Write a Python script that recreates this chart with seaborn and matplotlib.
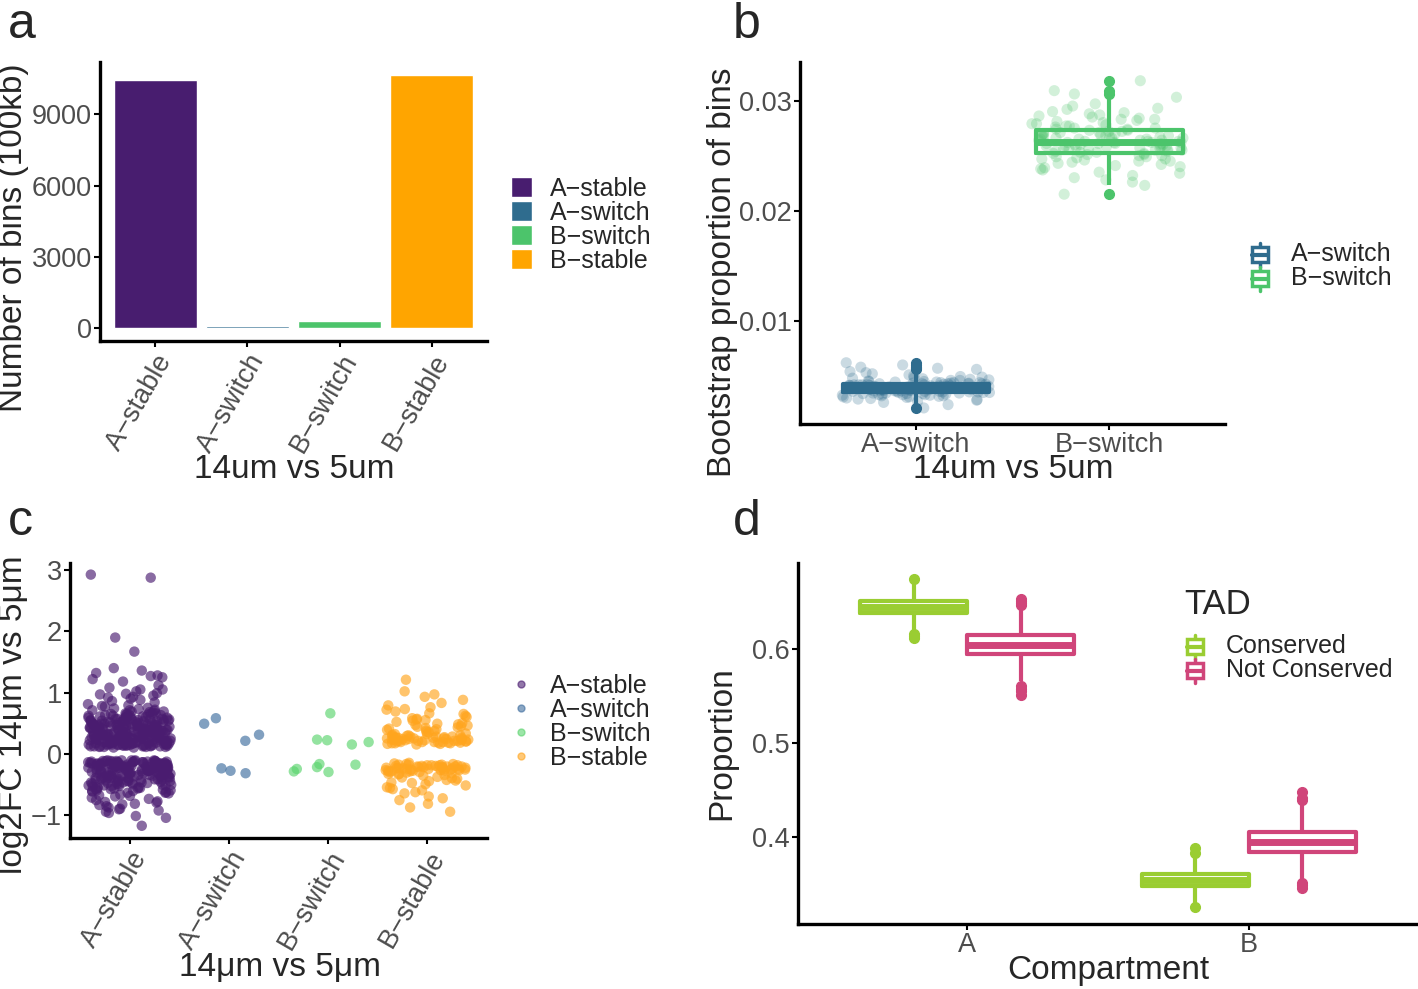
import numpy as np
import pandas as pd
import matplotlib
matplotlib.use("Agg")
import matplotlib.pyplot as plt
import seaborn as sns
from matplotlib.patches import Patch, Rectangle
from matplotlib.lines import Line2D
from matplotlib.legend_handler import HandlerBase

M = "\u2212"
categories = [f"A{M}stable", f"A{M}switch", f"B{M}switch", f"B{M}stable"]

# panel a: number of 100kb bins per class
bin_counts = [10460, 90, 290, 10670]
bar_colors = ["#481D6F", "#2F6C8E", "#4CC46B", "#FFA500"]

# panel b: bootstrap proportion of bins (x 1e-4)
switch_cats = [categories[1], categories[2]]
switch_colors = ["#2F6C8E", "#4CC46B"]
a_switch_boot = [21, 24, 26, 27, 28, 28.5, 29, 29.5, 30, 30.5, 31, 31, 31.5, 32, 32, 32.5, 32.5, 33, 33, 33,
                 33.5, 33.5, 34, 34, 34, 34.5, 34.5, 34.5, 35, 35,
                 35, 35.5, 35.5, 35.5, 36, 36, 36, 36, 36.5, 36.5, 36.5, 37, 37, 37, 37, 37.5, 37.5, 37.5, 38, 38,
                 38, 38, 38.5, 38.5, 38.5, 38.5, 39, 39, 39, 39,
                 39, 39.5, 39.5, 39.5, 40, 40, 40, 40, 40.5, 40.5, 40.5, 41, 41, 41, 41, 41.5, 41.5, 41.5, 42, 42,
                 42, 42, 42.5, 42.5, 42.5, 43, 43, 43, 43, 43,
                 43.5, 43.5, 43.5, 44, 44, 44, 44.5, 44.5, 45, 45, 45.5, 46, 46, 46.5, 47, 47.5, 48, 48.5, 49, 49.5,
                 50, 51, 52, 53, 54, 56, 57, 58, 60, 62]
b_switch_boot = [215, 223, 226, 228, 230, 232, 234, 235, 237, 238, 239, 240, 241, 242, 243, 244, 245, 245, 246, 247,
                 247, 248, 249, 249, 250, 250, 251, 251, 252, 252,
                 253, 253, 254, 254, 255, 255, 255, 256, 256, 256, 257, 257, 257, 258, 258, 258, 259, 259, 259, 260,
                 260, 260, 260, 261, 261, 261, 261, 262, 262, 262,
                 262, 263, 263, 263, 264, 264, 264, 265, 265, 265, 266, 266, 266, 267, 267, 267, 268, 268, 268, 269,
                 269, 270, 270, 270, 271, 271, 272, 272, 273, 273,
                 274, 274, 275, 275, 276, 277, 277, 278, 279, 279, 280, 281, 282, 283, 283, 284, 285, 286, 287, 288,
                 289, 290, 292, 293, 295, 297, 303, 306, 309, 318]

# panel c: log2FC per bin
lfc_colors = ["#4A1C70", "#3E6D9E", "#5BD46E", "#FFA51E"]
a_stable_lfc = [0.12, 0.35, 0.58, 0.21, 0.44, 0.17, 0.63, 0.29, 0.51, 0.14, 0.38, 0.72, 0.25, 0.47, 0.19, 0.55, 0.31, 0.66, 0.11, 0.42,
                0.27, 0.59, 0.16, 0.36, 0.69, 0.23, 0.48, 0.13, 0.53, 0.33, 0.77, 0.20, 0.40, 0.61, 0.15, 0.28, 0.50, 0.74, 0.18, 0.45,
                0.34, 0.57, 0.12, 0.26, 0.64, 0.39, 0.22, 0.52, 0.30, 0.68, 0.14, 0.43, 0.24, 0.56, 0.37, 0.81, 0.17, 0.46, 0.28, 0.60,
                0.13, 0.41, 0.71, 0.21, 0.49, 0.32, 0.54, 0.15, 0.38, 0.65, 0.26, 0.44, 0.19, 0.58, 0.35, 0.79, 0.11, 0.47, 0.23, 0.62,
                0.30, 0.53, 0.16, 0.40, 0.70, 0.25, 0.45, 0.14, 0.57, 0.33, 0.84, 0.20, 0.42, 0.63, 0.18, 0.29, 0.51, 0.75, 0.12, 0.37,
                0.48, 0.22, 0.66, 0.31, 0.55, 0.17, 0.43, 0.27, 0.59, 0.36, 0.13, 0.50, 0.24, 0.73, 0.39, 0.15, 0.46, 0.28, 0.61, 0.34,
                0.19, 0.52, 0.41, 0.67, 0.26, 0.12, 0.44, 0.32, 0.56, 0.21, 0.78, 0.38, 0.16, 0.49, 0.30, 0.64, 0.23, 0.54, 0.14, 0.47,
                0.10, 0.33, 0.55, 0.18, 0.41, 0.27, 0.62, 0.14, 0.48, 0.36, 0.22, 0.69, 0.11, 0.44, 0.30, 0.57, 0.19, 0.39, 0.25, 0.52,
                0.15, 0.46, 0.34, 0.60, 0.21, 0.12, 0.50, 0.28, 0.43, 0.17, 0.65, 0.37, 0.24, 0.54, 0.13, 0.31, 0.47, 0.20, 0.40, 0.58,
                0.16, 0.35, 0.26, 0.49, 0.11, 0.42, 0.29, 0.63, 0.18, 0.53, 0.23, 0.38, 0.14, 0.45, 0.32, 0.71, 0.20, 0.51, 0.27, 0.41,
                0.12, 0.36, 0.56, 0.22, 0.44, 0.15, 0.30, 0.48, 0.25, 0.61, 0.17, 0.39, 0.13, 0.34, 0.52, 0.21, 0.43, 0.28, 0.66, 0.19,
                0.10, 0.31, 0.46, 0.24, 0.37, 0.14, 0.55, 0.27, 0.40, 0.18,
                0.88, 0.92, 0.95, 0.97, 0.99, 1.02, 0.86, 0.90, 1.05, 1.08, 1.12, 1.18, 1.25, 1.28, 1.32, 1.36, 1.40, 1.27, 0.93, 0.98,
                1.05, 1.22, 1.67, 1.90, 2.93, 2.88,
                -0.12, -0.34, -0.57, -0.21, -0.45, -0.16, -0.62, -0.28, -0.50, -0.14, -0.38, -0.70, -0.24, -0.47, -0.19, -0.54, -0.31, -0.65, -0.11, -0.42,
                -0.27, -0.59, -0.15, -0.36, -0.68, -0.22, -0.48, -0.13, -0.52, -0.33, -0.74, -0.20, -0.40, -0.60, -0.17, -0.29, -0.49, -0.72, -0.18, -0.44,
                -0.33, -0.56, -0.12, -0.26, -0.63, -0.39, -0.23, -0.51, -0.30, -0.67, -0.14, -0.43, -0.25, -0.55, -0.37, -0.78, -0.16, -0.46, -0.28, -0.58,
                -0.13, -0.41, -0.69, -0.21, -0.48, -0.32, -0.53, -0.15, -0.38, -0.64, -0.26, -0.44, -0.19, -0.57, -0.35, -0.11, -0.47, -0.23, -0.61, -0.30,
                -0.52, -0.16, -0.40, -0.12, -0.25, -0.45, -0.14, -0.35, -0.20, -0.42, -0.18, -0.29, -0.13, -0.37, -0.22, -0.15, -0.31, -0.11, -0.27, -0.17,
                -0.24, -0.39, -0.12, -0.33, -0.19, -0.28, -0.14, -0.21, -0.36, -0.16,
                -0.11, -0.32, -0.50, -0.19, -0.41, -0.26, -0.58, -0.14, -0.45, -0.35, -0.21, -0.64, -0.12, -0.43, -0.29, -0.53, -0.18, -0.38, -0.24, -0.48,
                -0.15, -0.44, -0.33, -0.56, -0.20, -0.13, -0.47, -0.27, -0.40, -0.16, -0.61, -0.36, -0.23, -0.51, -0.12, -0.30, -0.46, -0.19, -0.39, -0.55,
                -0.17, -0.34, -0.25, -0.49, -0.11, -0.42, -0.28, -0.60, -0.18, -0.52, -0.22, -0.37, -0.14, -0.31, -0.26, -0.15, -0.20, -0.13, -0.29, -0.24,
                -0.16, -0.33, -0.12, -0.21, -0.27, -0.18, -0.35, -0.14, -0.23, -0.19,
                -0.80, -0.84, -0.88, -0.91, -0.95, -0.82, -0.86, -1.02, -1.05, -0.93, -0.76, -0.79, -0.83, -1.18, -0.90, -0.97]
a_switch_lfc = [0.58, 0.49, 0.31, 0.21, -0.24, -0.32, -0.28]
b_switch_lfc = [0.66, 0.23, 0.22, 0.19, 0.15, -0.18, -0.25, -0.30, -0.22, -0.29, -0.17]
b_stable_lfc = [0.17, 0.22, 0.28, 0.19, 0.25, 0.31, 0.21, 0.16, 0.27, 0.23, 0.33, 0.18, 0.24, 0.29, 0.20, 0.26, 0.15, 0.22, 0.30, 0.19,
                0.24, 0.35, 0.21, 0.17, 0.28, 0.23, 0.26, 0.32, 0.18, 0.25, 0.20, 0.38, 0.42, 0.45, 0.39, 0.48, 0.52, 0.44, 0.36, 0.55,
                0.41, 0.58, 0.47, 0.62, 0.50, 0.37, 0.65, 0.43, 0.57, 0.69, 0.40, 0.54, 0.72, 0.46, 0.60, 0.76, 0.49, 0.83, 0.88, 0.93,
                0.97, 1.02, 1.21, 0.66, 0.73, 0.79, 0.56,
                0.18, 0.24, 0.21, 0.27, 0.16, 0.30, 0.23, 0.19, 0.26, 0.22, 0.29, 0.17, 0.25, 0.20, 0.32, 0.28, 0.21, 0.24, 0.19, 0.26,
                -0.18, -0.23, -0.28, -0.20, -0.25, -0.31, -0.21, -0.16, -0.27, -0.22, -0.33, -0.19, -0.24, -0.29, -0.20, -0.26, -0.15, -0.23, -0.30, -0.18,
                -0.35, -0.21, -0.27, -0.24, -0.32, -0.19, -0.26, -0.22, -0.38, -0.17, -0.25, -0.28, -0.41, -0.36, -0.45, -0.39, -0.48, -0.43, -0.52, -0.34,
                -0.56, -0.47, -0.60, -0.40, -0.65, -0.50, -0.70, -0.44, -0.76, -0.55, -0.82, -0.63, -0.88, -0.95, -0.73, -0.58,
                -0.19, -0.24, -0.21, -0.27, -0.17, -0.30, -0.23, -0.20, -0.26, -0.22, -0.29, -0.18, -0.25, -0.21, -0.33, -0.28, -0.22, -0.24, -0.19, -0.26]

# panel d: proportion of bins by compartment and TAD conservation
compartments = ["A", "B"]
tad_groups = ["Conserved", "Not Conserved"]
tad_colors = ["#9ACD32", "#D0457A"]
cons_A = [0.612, 0.614, 0.616, 0.620, 0.630, 0.638, 0.640, 0.642, 0.643, 0.644, 0.645, 0.646, 0.647, 0.648, 0.650, 0.651,
          0.655, 0.660, 0.665, 0.669, 0.674]
notcons_A = [0.551, 0.555, 0.558, 0.561, 0.566, 0.595, 0.598, 0.600, 0.602, 0.603, 0.6045, 0.606, 0.608, 0.610, 0.612, 0.615,
             0.644, 0.647, 0.649, 0.651, 0.653]
cons_B = [0.326, 0.330, 0.335, 0.340, 0.345, 0.348, 0.350, 0.351, 0.352, 0.353, 0.3545, 0.356, 0.357, 0.358, 0.360, 0.361,
          0.366, 0.372, 0.380, 0.383, 0.388]
notcons_B = [0.346, 0.349, 0.351, 0.354, 0.370, 0.384, 0.387, 0.389, 0.391, 0.393, 0.3947, 0.396, 0.398, 0.400, 0.402, 0.405,
             0.420, 0.436, 0.439, 0.442, 0.448]

sns.set_theme(style="ticks")
plt.rcParams["font.family"] = ["Liberation Sans", "DejaVu Sans"]

W, H = 1418, 989
fig = plt.figure(figsize=(W / 100, H / 100), dpi=100)
TICK = 19.5
LEG = 18


def px_axes(l, t, r, b):
    return fig.add_axes([l / W, 1 - b / H, (r - l) / W, (b - t) / H])


def style(ax):
    sns.despine(ax=ax)
    for s in ["left", "bottom"]:
        ax.spines[s].set_linewidth(2.4)
        ax.spines[s].set_color("black")
    ax.tick_params(width=1.5, length=4, color="black", labelcolor="#4d4d4d", labelsize=TICK, pad=2)
    ax.set_xlabel("")
    ax.set_ylabel("")


def boxstyle(ax):
    for p in ax.patches:
        p.set_facecolor("white")
    for ln in ax.lines:
        if ln.get_marker() == "o":
            ln.set_markerfacecolor(ln.get_markeredgecolor())


class BoxGlyph(HandlerBase):
    # small boxplot key: whisker, white box, thick median
    def create_artists(self, legend, orig_handle, x0, y0, width, height, fontsize, trans):
        c = orig_handle.get_edgecolor()
        cx = x0 + width / 2
        whisk = Line2D([cx, cx], [y0 - 0.3 * height, y0 + 1.3 * height], color=c, lw=2.5, transform=trans)
        box = Rectangle((x0, y0), width, height, facecolor="white", edgecolor=c, lw=2.5, transform=trans)
        med = Line2D([x0, x0 + width], [y0 + height / 2] * 2, color=c, lw=3, transform=trans)
        return [whisk, box, med]


def title(x, y, s, rot=0):
    fig.text(x / W, 1 - y / H, s, fontsize=24, ha="center", va="center", rotation=rot)


box_kws = dict(fill=False, width=0.76, linewidth=3, legend=False,
               flierprops=dict(marker="o", markersize=7), medianprops=dict(linewidth=5),
               capprops=dict(linewidth=0))
leg_kws = dict(frameon=False, fontsize=LEG, labelspacing=0, borderpad=0, borderaxespad=0)

# ---- a ----
axa = px_axes(100, 62, 487, 341)
df_a = pd.DataFrame({"cat": categories, "n": bin_counts})
sns.barplot(data=df_a, x="cat", y="n", hue="cat", palette=bar_colors, width=0.9,
            saturation=1, legend=False, ax=axa)
axa.set_xlim(-0.6, 3.6)
axa.set_ylim(-533, 11203)
axa.set_yticks([0, 3000, 6000, 9000])
style(axa)
axa.set_xticks(range(4))
axa.set_xticklabels(categories, rotation=60, ha="right", va="top", rotation_mode="anchor")
title(294, 470, "14um vs 5um")
title(14, 238, "Number of bins (100kb)", 90)
fig.legend([Patch(facecolor=c) for c in bar_colors], categories, loc="center left",
           bbox_to_anchor=(511 / W, 1 - 225 / H), handlelength=0.85, handleheight=0.85,
           handletextpad=0.7, **leg_kws)

# ---- b ----
axb = px_axes(800, 62, 1225, 424)
df_b = pd.DataFrame({"grp": [switch_cats[0]] * len(a_switch_boot) + [switch_cats[1]] * len(b_switch_boot),
                     "val": np.array(a_switch_boot + b_switch_boot) * 1e-4})
np.random.seed(3)
sns.stripplot(data=df_b, x="grp", y="val", hue="grp", palette=switch_colors, jitter=0.4, size=8,
              alpha=0.25, linewidth=0, legend=False, ax=axb)
sns.boxplot(data=df_b, x="grp", y="val", hue="grp", palette=switch_colors, ax=axb, **box_kws)
boxstyle(axb)
axb.set_xlim(-0.6, 1.6)
axb.set_ylim(0.00064, 0.0335)
axb.set_yticks([0.01, 0.02, 0.03])
axb.set_yticklabels(["0.01", "0.02", "0.03"])
style(axb)
title(1013, 470, "14um vs 5um")
title(722, 272, "Bootstrap proportion of bins", 90)
fig.legend([Patch(edgecolor=c) for c in switch_colors], switch_cats, loc="center left",
           bbox_to_anchor=(1252 / W, 1 - 266 / H), handler_map={Patch: BoxGlyph()},
           handlelength=0.65, handleheight=0.55, handletextpad=0.9, **leg_kws)

# ---- c ----
axc = px_axes(70, 563, 487, 838)
df_c = pd.DataFrame({
    "cat": [categories[0]] * len(a_stable_lfc) + [categories[1]] * len(a_switch_lfc)
           + [categories[2]] * len(b_switch_lfc) + [categories[3]] * len(b_stable_lfc),
    "val": a_stable_lfc + a_switch_lfc + b_switch_lfc + b_stable_lfc})
np.random.seed(7)
sns.stripplot(data=df_c, x="cat", y="val", hue="cat", palette=lfc_colors, order=categories,
              jitter=0.42, size=7.5, alpha=0.65, linewidth=0, legend=False, ax=axc)
axc.set_xlim(-0.6, 3.6)
axc.set_ylim(-1.38, 3.12)
axc.set_yticks([-1, 0, 1, 2, 3])
axc.set_yticklabels([f"{M}1", "0", "1", "2", "3"])
style(axc)
axc.set_xticks(range(4))
axc.set_xticklabels(categories, rotation=60, ha="right", va="top", rotation_mode="anchor")
title(280, 968, "14\u03bcm vs 5\u03bcm")
title(14, 715, "log2FC 14\u03bcm vs 5\u03bcm", 90)
fig.legend([Line2D([], [], marker="o", linestyle="None", markersize=5, color=c, alpha=0.6) for c in lfc_colors],
           categories, loc="center left", bbox_to_anchor=(510 / W, 1 - 722 / H),
           handlelength=0.9, handletextpad=0.7, **leg_kws)

# ---- d ----
axd = px_axes(798, 563, 1418, 924)
vals_d = [cons_A, notcons_A, cons_B, notcons_B]
keys_d = [("A", "Conserved"), ("A", "Not Conserved"), ("B", "Conserved"), ("B", "Not Conserved")]
df_d = pd.DataFrame([(k[0], k[1], v) for k, vs in zip(keys_d, vals_d) for v in vs],
                    columns=["comp", "tad", "val"])
sns.boxplot(data=df_d, x="comp", y="val", hue="tad", order=compartments, hue_order=tad_groups,
            palette=tad_colors, gap=0, ax=axd, **box_kws)
boxstyle(axd)
axd.set_xlim(-0.6, 1.6)
axd.set_ylim(0.3075, 0.6915)
axd.set_yticks([0.4, 0.5, 0.6])
axd.set_yticklabels(["0.4", "0.5", "0.6"])
style(axd)
title(1108, 970, "Compartment")
title(722, 743, "Proportion", 90)
fig.text(1184 / W, 1 - 604 / H, "TAD", fontsize=25, ha="left", va="center")
fig.legend([Patch(edgecolor=c) for c in tad_colors], tad_groups, loc="center left",
           bbox_to_anchor=(1187 / W, 1 - 658 / H), handler_map={Patch: BoxGlyph()},
           handlelength=0.65, handleheight=0.55, handletextpad=0.9, **leg_kws)

for s, x, y in [("a", 8, 38), ("b", 733, 38), ("c", 8, 535), ("d", 733, 535)]:
    fig.text(x / W, 1 - y / H, s, fontsize=36, ha="left", va="baseline")

fig.savefig("out.png", dpi=100)
